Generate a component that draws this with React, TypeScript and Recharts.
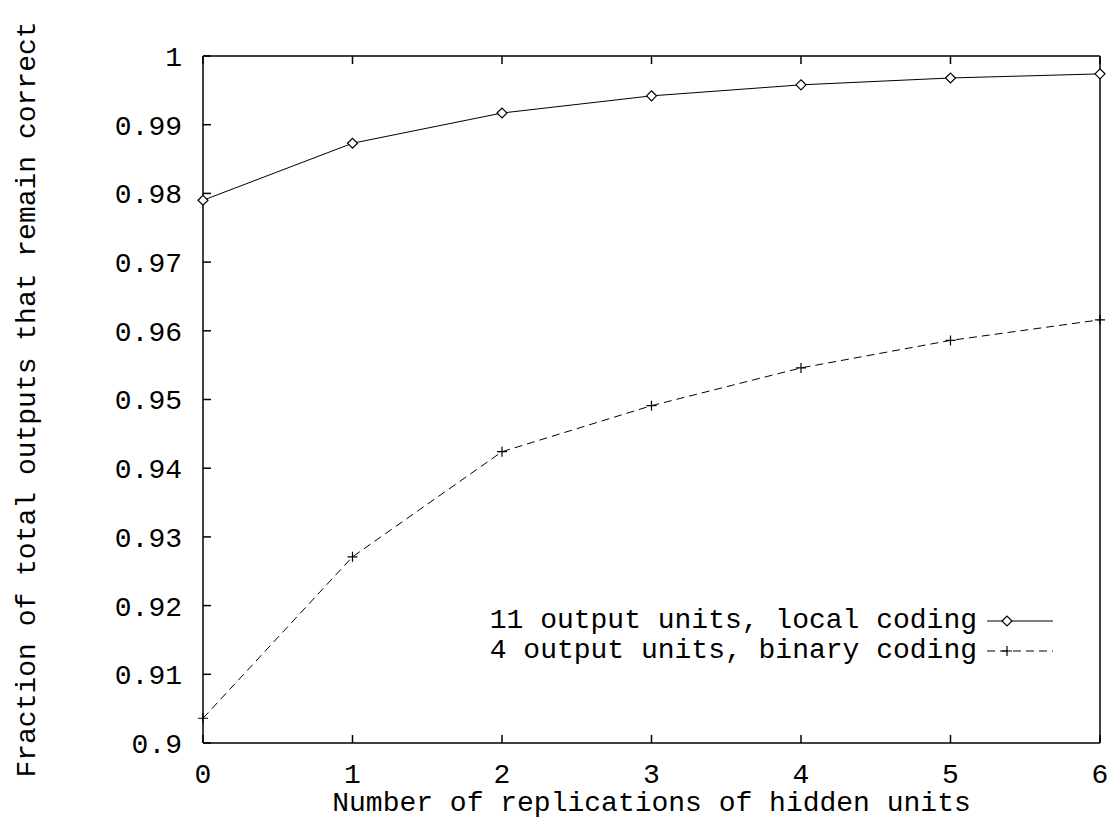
import { Legend, Line, LineChart, XAxis, YAxis } from 'recharts';

const replications = [0, 1, 2, 3, 4, 5, 6];
const localCoding = [0.979, 0.9873, 0.9917, 0.9942, 0.9958, 0.9968, 0.9974];
const binaryCoding = [0.9036, 0.9271, 0.9424, 0.9491, 0.9546, 0.9586, 0.9616];
const yTicks = [0.9, 0.91, 0.92, 0.93, 0.94, 0.95, 0.96, 0.97, 0.98, 0.99, 1];

const FONT = '"Liberation Mono", "DejaVu Sans Mono", monospace';
const FS = 28;

const data = replications.map((x, i) => ({
  x,
  local: localCoding[i],
  binary: binaryCoding[i],
}));

const Diamond = ({ cx, cy }: any) => (
  <path
    d={`M${cx - 5},${cy} L${cx},${cy - 5} L${cx + 5},${cy} L${cx},${cy + 5} Z`}
    fill="#fff"
    stroke="#000"
    strokeWidth={1.2}
  />
);

const Plus = ({ cx, cy }: any) => (
  <path d={`M${cx - 5},${cy} H${cx + 5} M${cx},${cy - 5} V${cy + 5}`} stroke="#000" strokeWidth={1.2} />
);

const legendRows = [
  { label: '11 output units, local coding', dash: undefined, marker: 'diamond' },
  { label: '4 output units, binary coding', dash: '8 5', marker: 'plus' },
];

function LegendBox() {
  return (
    <div style={{ fontFamily: FONT, fontSize: FS, color: '#000', lineHeight: '30px' }}>
      {legendRows.map((row) => (
        <div key={row.label} style={{ display: 'flex', justifyContent: 'flex-end', alignItems: 'center' }}>
          <span style={{ whiteSpace: 'pre' }}>{row.label}</span>
          <svg width={78} height={30} style={{ marginLeft: 10 }}>
            <line x1={0} y1={15} x2={66} y2={15} stroke="#000" strokeWidth={1} strokeDasharray={row.dash} />
            {row.marker === 'diamond' ? <Diamond cx={20} cy={15} /> : <Plus cx={20} cy={15} />}
          </svg>
        </div>
      ))}
    </div>
  );
}

const emptyTick = () => <g />;

export default function App() {
  const tickStyle = { fontFamily: FONT, fontSize: FS, fill: '#000' };
  return (
    <div style={{ position: 'absolute', left: 0, top: 0, width: 1114, height: 822, background: '#fff' }}>
      <LineChart width={1114} height={822} data={data} margin={{ top: 0, right: 0, bottom: 0, left: 0 }}>
        <XAxis
          xAxisId="bottom"
          dataKey="x"
          type="number"
          domain={[0, 6]}
          ticks={replications}
          height={79}
          tickSize={-8}
          tickMargin={28}
          tick={tickStyle}
          axisLine={{ stroke: '#000', strokeWidth: 1.5 }}
          tickLine={{ stroke: '#000', strokeWidth: 1.5 }}
          label={{ value: 'Number of replications of hidden units', position: 'insideBottom', offset: 11, style: tickStyle }}
        />
        <XAxis
          xAxisId="top"
          orientation="top"
          dataKey="x"
          type="number"
          domain={[0, 6]}
          ticks={replications}
          height={56}
          tickSize={-8}
          tick={emptyTick}
          axisLine={{ stroke: '#000', strokeWidth: 1.5 }}
          tickLine={{ stroke: '#000', strokeWidth: 1.5 }}
        />
        <YAxis
          yAxisId="left"
          type="number"
          domain={[0.9, 1]}
          ticks={yTicks}
          width={203}
          tickSize={-8}
          tickMargin={29}
          tick={tickStyle}
          tickFormatter={(v) => String(v)}
          axisLine={{ stroke: '#000', strokeWidth: 1.5 }}
          tickLine={{ stroke: '#000', strokeWidth: 1.5 }}
          label={{
            value: 'Fraction of total outputs that remain correct',
            angle: -90,
            position: 'insideLeft',
            offset: 25,
            style: { ...tickStyle, textAnchor: 'middle' },
          }}
        />
        <YAxis
          yAxisId="right"
          orientation="right"
          type="number"
          domain={[0.9, 1]}
          ticks={yTicks}
          width={14}
          tickSize={-8}
          tick={emptyTick}
          axisLine={{ stroke: '#000', strokeWidth: 1.5 }}
          tickLine={{ stroke: '#000', strokeWidth: 1.5 }}
        />
        <Legend
          layout="horizontal"
          verticalAlign="middle"
          align="center"
          content={() => <LegendBox />}
          wrapperStyle={{ left: 400, top: 606, width: 665 }}
        />
        <Line
          xAxisId="bottom"
          yAxisId="left"
          dataKey="local"
          stroke="#000"
          strokeWidth={1}
          dot={<Diamond />}
          isAnimationActive={false}
        />
        <Line
          xAxisId="bottom"
          yAxisId="left"
          dataKey="binary"
          stroke="#000"
          strokeWidth={1}
          strokeDasharray="8 5"
          dot={<Plus />}
          isAnimationActive={false}
        />
      </LineChart>
    </div>
  );
}
